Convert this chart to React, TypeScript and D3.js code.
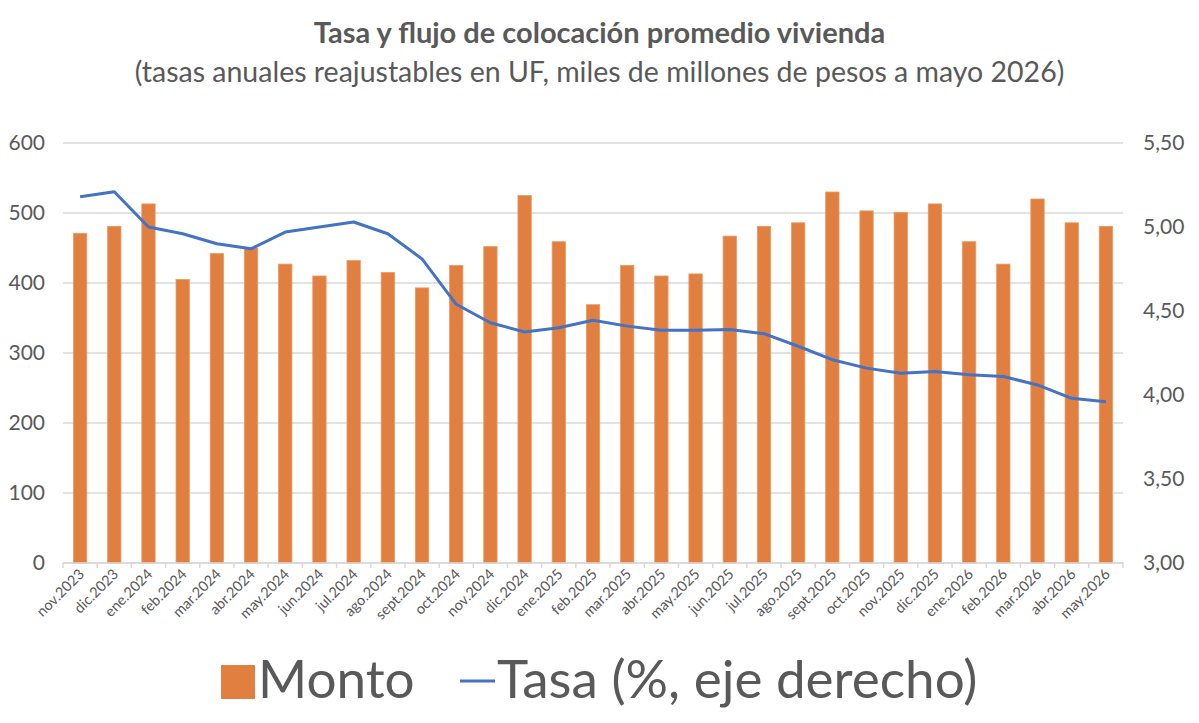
import * as d3 from 'd3';

const months = [
  'nov.2023', 'dic.2023', 'ene.2024', 'feb.2024', 'mar.2024', 'abr.2024', 'may.2024', 'jun.2024',
  'jul.2024', 'ago.2024', 'sept.2024', 'oct.2024', 'nov.2024', 'dic.2024', 'ene.2025', 'feb.2025',
  'mar.2025', 'abr.2025', 'may.2025', 'jun.2025', 'jul.2025', 'ago.2025', 'sept.2025', 'oct.2025',
  'nov.2025', 'dic.2025', 'ene.2026', 'feb.2026', 'mar.2026', 'abr.2026', 'may.2026',
];

// Monto (miles de millones de pesos)
const monto = [
  471, 481, 513, 405, 442, 450, 427, 410, 432, 415, 393, 425, 452, 525, 459, 369,
  425, 410, 413, 467, 481, 486, 530, 503, 501, 513, 459, 427, 520, 486, 481,
];

// Tasa (%, eje derecho)
const tasa = [
  5.18, 5.21, 5.0, 4.96, 4.9, 4.87, 4.97, 5.0, 5.03, 4.96, 4.81, 4.54, 4.43, 4.375, 4.4, 4.445,
  4.41, 4.385, 4.385, 4.39, 4.365, 4.29, 4.21, 4.16, 4.13, 4.14, 4.12, 4.11, 4.06, 3.98, 3.96,
];

const leftTicks = [0, 100, 200, 300, 400, 500, 600];
const rightTicks = [3.0, 3.5, 4.0, 4.5, 5.0, 5.5];

const W = 1199;
const H = 723;
const FONT = 'Lato, "Open Sans", sans-serif';
const TEXT = '#595959';
const GRID = '#d9d9d9';

export default function App() {
  const margin = { top: 143, right: 76, bottom: 160, left: 63 };

  const x = d3
    .scaleBand<string>()
    .domain(months)
    .range([margin.left, W - margin.right])
    .paddingInner(0.61)
    .paddingOuter(0.305);

  const band = d3
    .scaleBand<string>()
    .domain(months)
    .range([margin.left, W - margin.right]);

  const yL = d3.scaleLinear().domain([0, 600]).range([H - margin.bottom, margin.top]);
  const yR = d3.scaleLinear().domain([3, 5.5]).range([H - margin.bottom, margin.top]);

  const line = d3
    .line<number>()
    .x((_, i) => band(months[i])! + band.bandwidth() / 2)
    .y((d) => yR(d));

  const fmtR = (v: number) => v.toFixed(2).replace('.', ',');
  const y0 = yL(0);

  return (
    <svg
      width={W}
      height={H}
      style={{ position: 'absolute', left: 0, top: 0, background: '#fff' }}
      fontFamily={FONT}
    >
      {/* title */}
      <text x={W / 2} y={43} textAnchor="middle" fontSize={29} fontWeight="bold" fill={TEXT}>
        Tasa y flujo de colocación promedio vivienda
      </text>
      <text x={W / 2} y={82} textAnchor="middle" fontSize={28.5} fill={TEXT}>
        (tasas anuales reajustables en UF, miles de millones de pesos a mayo 2026)
      </text>

      {/* grid */}
      {leftTicks.map((t) => (
        <line
          key={t}
          x1={margin.left}
          x2={W - margin.right}
          y1={yL(t)}
          y2={yL(t)}
          stroke={GRID}
          strokeWidth={1.5}
        />
      ))}

      {/* left axis labels */}
      {leftTicks.map((t) => (
        <text key={t} x={45} y={yL(t)} dy="0.35em" textAnchor="end" fontSize={21} fill={TEXT}>
          {t}
        </text>
      ))}

      {/* right axis labels */}
      {rightTicks.map((t) => (
        <text key={t} x={1143} y={yR(t)} dy="0.35em" textAnchor="start" fontSize={21} fill={TEXT}>
          {fmtR(t)}
        </text>
      ))}

      {/* bars */}
      {monto.map((v, i) => (
        <rect
          key={months[i]}
          x={x(months[i])}
          y={yL(v)}
          width={x.bandwidth()}
          height={y0 - yL(v)}
          fill="#e07f3f"
          stroke="#eb9a62"
          strokeWidth={0.8}
        />
      ))}

      {/* x axis */}
      <line x1={margin.left} x2={W - margin.right} y1={y0} y2={y0} stroke={GRID} strokeWidth={1.5} />
      {[...months, 'end'].map((m, i) => {
        const tx = margin.left + i * band.step();
        return <line key={m} x1={tx} x2={tx} y1={y0} y2={y0 + 5} stroke={GRID} strokeWidth={1.5} />;
      })}
      {months.map((m) => {
        const cx = band(m)! + band.bandwidth() / 2 + 5;
        return (
          <text
            key={m}
            transform={`translate(${cx},${y0 + 12}) rotate(-45)`}
            textAnchor="end"
            fontSize={14.5}
            fill={TEXT}
          >
            {m}
          </text>
        );
      })}

      {/* tasa line */}
      <path d={line(tasa)!} fill="none" stroke="#4472c4" strokeWidth={3} strokeLinejoin="round" />

      {/* legend */}
      <rect x={221} y={665} width={34} height={34} fill="#e07f3f" />
      <text x={258} y={698} fontSize={53} fill={TEXT}>
        Monto
      </text>
      <line x1={460} x2={495} y1={681} y2={681} stroke="#4472c4" strokeWidth={3} />
      <text x={497} y={698} fontSize={53} fill={TEXT}>
        Tasa (%, eje derecho)
      </text>
    </svg>
  );
}
